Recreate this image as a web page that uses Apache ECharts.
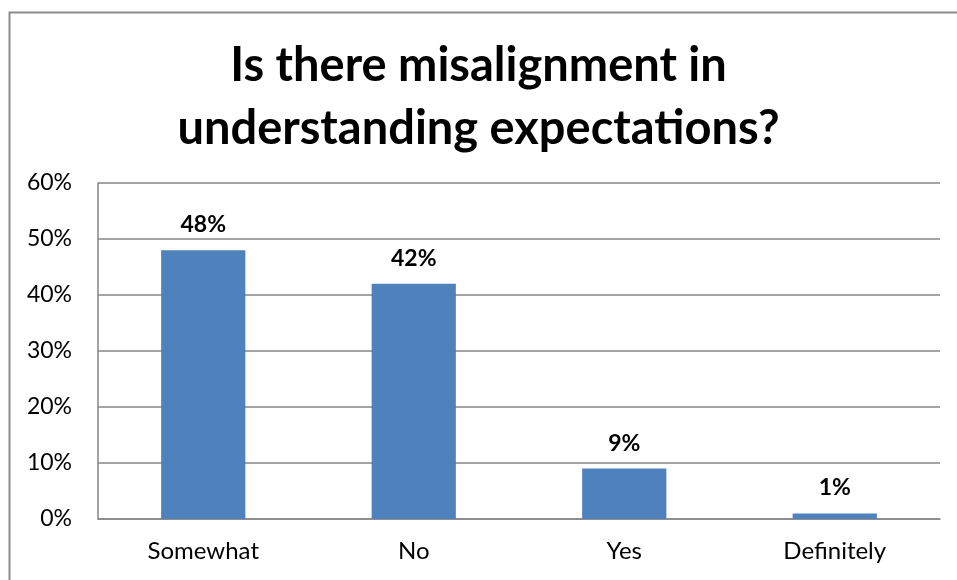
<!DOCTYPE html>
<html>
<head>
<meta charset="utf-8">
<script src="https://cdn.jsdelivr.net/npm/echarts@6/dist/echarts.min.js"></script>
<style>
  html, body { margin: 0; padding: 0; background: #fff; }
  #chart { width: 957px; height: 580px; }
</style>
</head>
<body>
<div id="chart"></div>
<script>
// Survey responses: share of answers per option
const categories = ['Somewhat', 'No', 'Yes', 'Definitely'];
const shares = [0.48, 0.42, 0.09, 0.01];
const yTicks = [0, 0.1, 0.2, 0.3, 0.4, 0.5, 0.6];

const FONT = 'Lato, "Open Sans", sans-serif';

const chart = echarts.init(document.getElementById('chart'), null, { renderer: 'canvas' });

chart.setOption({
  animation: false,
  backgroundColor: '#ffffff',
  title: {
    text: 'Is there misalignment in\nunderstanding expectations?',
    left: 'center',
    top: 29,
    textStyle: {
      fontFamily: FONT,
      fontSize: 47,
      fontWeight: 'bold',
      color: '#000',
      lineHeight: 63
    }
  },
  graphic: [{
    type: 'rect',
    shape: { x: 9.5, y: 12.5, width: 980, height: 600 },
    style: { fill: 'none', stroke: '#8c8c8c', lineWidth: 2 },
    silent: true
  }],
  grid: { left: 98, right: 17, top: 183, bottom: 61 },
  xAxis: {
    type: 'category',
    data: categories,
    axisLine: { show: true, lineStyle: { color: '#868686', width: 1.5 } },
    axisTick: { show: false },
    axisLabel: { fontFamily: FONT, fontSize: 24, color: '#000', margin: 20 }
  },
  yAxis: {
    type: 'value',
    min: yTicks[0],
    max: yTicks[yTicks.length - 1],
    interval: 0.1,
    axisLine: { show: true, lineStyle: { color: '#868686', width: 1.5 } },
    axisTick: { show: false },
    splitLine: { show: true, lineStyle: { color: '#868686', width: 1.5 } },
    axisLabel: {
      fontFamily: FONT, fontSize: 23, color: '#000', margin: 26,
      formatter: v => Math.round(v * 100) + '%'
    }
  },
  series: [{
    type: 'bar',
    data: shares,
    barCategoryGap: '60%',
    itemStyle: { color: '#4f81bd' },
    label: {
      show: true,
      position: 'top',
      distance: 14,
      fontFamily: FONT,
      fontSize: 23,
      fontWeight: 'bold',
      color: '#000',
      formatter: p => Math.round(p.value * 100) + '%'
    }
  }]
});
</script>
</body>
</html>
